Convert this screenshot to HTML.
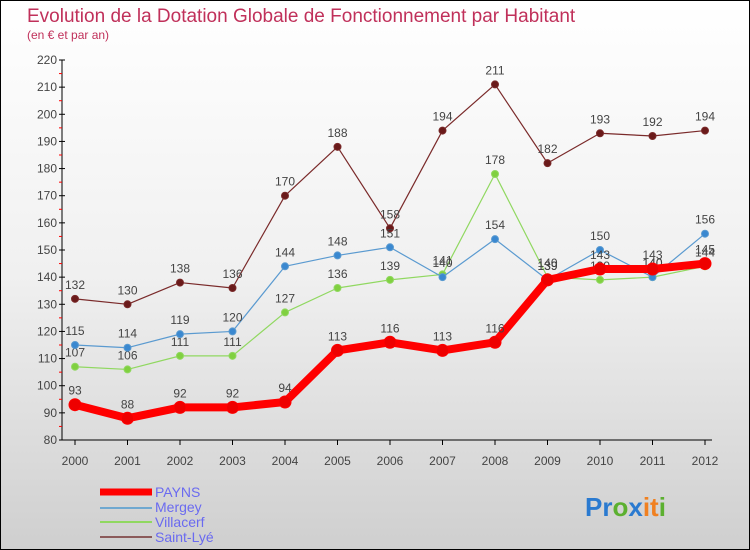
<!DOCTYPE html>
<html><head><meta charset="utf-8"><style>
body{margin:0}
#c{width:750px;height:550px;position:relative;box-sizing:border-box;border:1px solid #000;background:linear-gradient(#fff,#f0f0f0 50%,#cfcfcf);font-family:"Liberation Sans",sans-serif;overflow:hidden}
</style></head><body>
<div id="c">
<svg id="s" width="750" height="550" style="position:absolute;left:-1px;top:-1px">
<text x="27" y="22" font-size="19" fill="#c0305a">Evolution de la Dotation Globale de Fonctionnement par Habitant</text>
<text x="27" y="39" font-size="12" fill="#c0305a">(en € et par an)</text>
<g id="ax"></g><g id="ser"></g>
<g>
<line x1="100" y1="492" x2="152" y2="492" stroke="#f00" stroke-width="7"/>
<line x1="100" y1="508" x2="152" y2="508" stroke="#6fa8d0" stroke-width="2"/>
<line x1="100" y1="522" x2="152" y2="522" stroke="#90d860" stroke-width="2"/>
<line x1="100" y1="537" x2="152" y2="537" stroke="#8b5a5a" stroke-width="2"/>
<text x="155" y="497" font-size="14" fill="#6a6af0">PAYNS</text>
<text x="155" y="512" font-size="14" fill="#6a6af0">Mergey</text>
<text x="155" y="527" font-size="14" fill="#6a6af0">Villacerf</text>
<text x="155" y="542" font-size="14" fill="#6a6af0">Saint-Lyé</text>
</g>
<g font-size="26" font-weight="bold">
<text x="585" y="516"><tspan fill="#2a7ad0">Pr</tspan><tspan fill="#5cb030">o</tspan><tspan fill="#2a7ad0">x</tspan><tspan fill="#f08020">it</tspan><tspan fill="#5cb030">i</tspan></text>
</g>
</svg>
</div>
<script>
const years=["2000","2001","2002","2003","2004","2005","2006","2007","2008","2009","2010","2011","2012"];
const yTicks=[80,90,100,110,120,130,140,150,160,170,180,190,200,210,220];
const payns=[93,88,92,92,94,113,116,113,116,139,143,143,145];
const mergey=[115,114,119,120,144,148,151,140,154,139,150,140,156];
const villacerf=[107,106,111,111,127,136,139,141,178,140,139,140,144];
const saintLye=[132,130,138,136,170,188,158,194,211,182,193,192,194];
const NS="http://www.w3.org/2000/svg";
const X=i=>75+i*52.5, Y=v=>440-(v-80)*380/140;
function mk(t,a,p){const e=document.createElementNS(NS,t);for(const k in a)e.setAttribute(k,a[k]);p.appendChild(e);return e;}
const ax=document.getElementById('ax');
let l=mk('line',{x1:62,y1:60,x2:62,y2:440,stroke:'#000'},ax);


l=mk('line',{x1:62,y1:440,x2:712,y2:440,stroke:'#000'},ax);


yTicks.forEach(v=>{mk('line',{x1:59,y1:Y(v),x2:65,y2:Y(v),stroke:'#000'},ax);
 if(v<220)mk('line',{x1:59,y1:Y(v+5),x2:62,y2:Y(v+5),stroke:'#f00'},ax);
 const t=mk('text',{x:57,y:Y(v)+4,'text-anchor':'end','font-size':12,fill:'#444'},ax);t.textContent=v;
 
 });
years.forEach((y,i)=>{mk('line',{x1:X(i),y1:440,x2:X(i),y2:445,stroke:'#000'},ax);
 const t=mk('text',{x:X(i),y:465,'text-anchor':'middle','font-size':12,fill:'#444'},ax);t.textContent=y;
 
 });
const ser=document.getElementById('ser');
function draw(d,col,dot,w,r,name){const g=mk('g',{},ser);
 
 
 mk('polyline',{points:d.map((v,i)=>X(i)+','+Y(v)).join(' '),fill:'none',stroke:col,'stroke-width':w,'stroke-linejoin':'round'},g);
 d.forEach((v,i)=>{const c=mk('circle',{cx:X(i),cy:Y(v),r:r,fill:dot,stroke:col,'stroke-width':1},g);
  
  
  const t=mk('text',{x:X(i),y:Y(v)-10,'text-anchor':'middle','font-size':12,fill:'#444'},g);t.textContent=v;
  
  });}
draw(saintLye,'#7a2a2a','#6a1a1a',1.2,3.5,'saint-lye');
draw(villacerf,'#90d860','#80d040',1.2,3.5,'villacerf');
draw(mergey,'#5a9ad0','#3a88d0',1.2,3.5,'mergey');
draw(payns,'#f00','#e00',8,6,'payns');
</script>
</body></html>
